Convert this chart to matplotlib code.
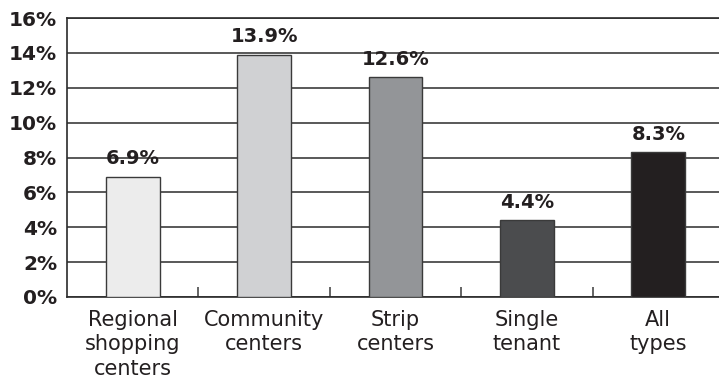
"""Vacancy rate by shopping center type - bar chart."""
import matplotlib.pyplot as plt
from matplotlib.ticker import FixedLocator

categories = ["Regional\nshopping\ncenters", "Community\ncenters", "Strip\ncenters",
              "Single\ntenant", "All\ntypes"]
values = [6.9, 13.9, 12.6, 4.4, 8.3]
colors = ["#ececec", "#d0d1d3", "#939598", "#4b4c4e", "#231f20"]
yticks = [0, 2, 4, 6, 8, 10, 12, 14, 16]

W, H = 719, 383
fig = plt.figure(figsize=(W / 100, H / 100), dpi=100)
left, right, top, bottom = 67, 724, 18, 297
ax = fig.add_axes([left / W, 1 - bottom / H, (right - left) / W, (bottom - top) / H])

x = range(len(categories))
ax.set_axisbelow(True)
ax.grid(axis='y', color='#2b2b2b', linewidth=1.1)
ax.bar(x, values, width=0.41, color=colors, edgecolor='#3a3a3a', linewidth=1.0, zorder=3)

for i, v in enumerate(values):
    ax.annotate(f'{v:.1f}%', (i, v), textcoords="offset points", xytext=(0, 6),
                ha='center', va='bottom', fontsize=14, fontweight='bold', color='#231f20')

ax.set_xlim(-0.5, 4.5)
ax.set_ylim(0, 16)
ax.set_yticks(yticks)
ax.set_yticklabels([f'{t}%' for t in yticks], fontsize=14.5, fontweight='bold', color='#231f20')
ax.tick_params(axis='y', length=0, pad=7)

ax.set_xticks(list(x))
ax.set_xticklabels(categories, fontsize=15, color='#231f20', linespacing=1.3)
ax.tick_params(axis='x', which='major', length=0, pad=9)
ax.xaxis.set_minor_locator(FixedLocator([0.5, 1.5, 2.5, 3.5]))
ax.tick_params(axis='x', which='minor', direction='in', length=7, width=1.1, color='#3a3a3a')

for s in ['left', 'bottom', 'top']:
    ax.spines[s].set_color('#2b2b2b')
    ax.spines[s].set_linewidth(1.2)
ax.spines['right'].set_visible(False)

plt.savefig("out.png", dpi=100)
